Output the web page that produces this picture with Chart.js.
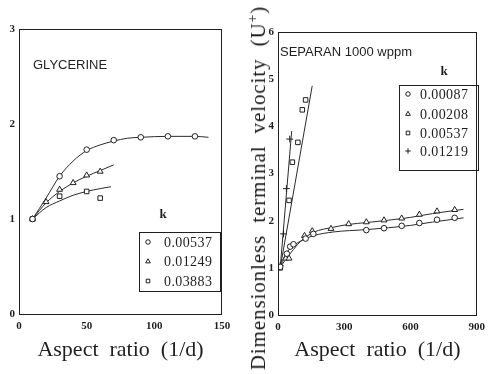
<!DOCTYPE html>
<html>
<head>
<meta charset="utf-8">
<script src="https://cdn.jsdelivr.net/npm/chart.js@4.4.1/dist/chart.umd.min.js"></script>
<style>
  html, body { margin: 0; padding: 0; background: #fff; }
  #wrap { position: relative; width: 491px; height: 374px; overflow: hidden; background: #fff; }
  #leftBox { position: absolute; left: 0; top: 0; width: 240px; height: 374px; }
  #rightBox { position: absolute; left: 240px; top: 0; width: 251px; height: 374px; }
  #ytitle {
    position: absolute; left: 258px; top: 188px;
    transform: translate(-50%, -50%) rotate(-90deg);
    white-space: nowrap; color: #1a1a1a;
    font: 21px "Liberation Serif", "DejaVu Serif", serif;
    letter-spacing: 0.9px; word-spacing: 6px;
  }
</style>
</head>
<body>
<div id="wrap">
  <div id="leftBox"><canvas id="glyChart"></canvas></div>
  <div id="rightBox"><canvas id="sepChart"></canvas></div>
  <div id="ytitle">Dimensionless terminal velocity (U<sup style="font-size:14px">+</sup>)</div>
</div>
<script>
// GLYCERINE panel - measured points
const glyK = ['0.00537', '0.01249', '0.03883'];
const glyAR1 = [10, 30, 50, 70, 90, 110, 130];
const glyU1 = [1.0, 1.45, 1.73, 1.83, 1.86, 1.87, 1.87];
const glyAR2 = [10, 20, 30, 40, 50, 60];
const glyU2 = [1.0, 1.18, 1.31, 1.38, 1.46, 1.50];
const glyAR3 = [10, 30, 50, 60];
const glyU3 = [1.0, 1.24, 1.29, 1.22];
// GLYCERINE panel - fitted curves
const glyFitAR1 = [10, 20, 30, 40, 50, 60, 70, 80, 90, 110, 130, 140];
const glyFitU1 = [1.0, 1.22, 1.45, 1.61, 1.72, 1.78, 1.82, 1.85, 1.86, 1.87, 1.87, 1.86];
const glyFitAR2 = [10, 20, 30, 40, 50, 60, 70];
const glyFitU2 = [1.0, 1.17, 1.29, 1.38, 1.45, 1.51, 1.57];
const glyFitAR3 = [10, 20, 30, 40, 50, 60, 68];
const glyFitU3 = [1.0, 1.12, 1.19, 1.25, 1.29, 1.32, 1.34];

// SEPARAN panel - measured points
const sepK = ['0.00087', '0.00208', '0.00537', '0.01219'];
const sepAR1 = [10, 40, 55, 70, 125, 160, 400, 480, 560, 640, 720, 800];
const sepU1 = [1.02, 1.30, 1.45, 1.50, 1.62, 1.72, 1.80, 1.84, 1.89, 1.95, 2.02, 2.06];
const sepAR2 = [35, 50, 120, 155, 240, 320, 400, 480, 560, 640, 720, 800];
const sepU2 = [1.20, 1.20, 1.68, 1.78, 1.83, 1.93, 1.97, 2.01, 2.05, 2.13, 2.20, 2.23];
const sepAR3 = [10, 50, 65, 90, 110, 125];
const sepU3 = [1.0, 2.43, 3.24, 3.66, 4.35, 4.56];
const sepAR4 = [10, 25, 38, 53];
const sepU4 = [1.05, 1.72, 2.68, 3.73];
// SEPARAN panel - fitted curves
const sepFitAR1 = [10, 30, 60, 100, 160, 250, 400, 500, 600, 700, 840];
const sepFitU1 = [1.0, 1.25, 1.43, 1.56, 1.68, 1.76, 1.81, 1.85, 1.90, 1.97, 2.06];
const sepFitAR2 = [10, 30, 60, 100, 160, 250, 320, 400, 500, 600, 700, 840];
const sepFitU2 = [1.0, 1.15, 1.33, 1.55, 1.75, 1.86, 1.92, 1.96, 2.01, 2.07, 2.15, 2.24];
const sepFitAR3 = [10, 155];
const sepFitU3 = [1.0, 4.86];
const sepFitAR4 = [10, 62];
const sepFitU4 = [1.0, 3.9];

const INK = '#1f1f1f';
const SERIF = '"Liberation Serif", "DejaVu Serif", serif';
const SANS = '"Liberation Sans", Arial, sans-serif';

const pts = (xs, ys) => xs.map((x, i) => ({ x, y: ys[i] }));

function markers(xs, ys, style, r) {
    return {
        data: pts(xs, ys), pointStyle: style, pointRadius: r,
        pointBorderColor: INK, pointBackgroundColor: '#fff', pointBorderWidth: 1,
        showLine: false
    };
}

function fit(xs, ys) {
    return {
        data: pts(xs, ys), showLine: true, pointRadius: 0,
        borderColor: '#2a2a2a', borderWidth: 1,
        cubicInterpolationMode: 'monotone'
    };
}

// frame, inset label and the boxed "k" legend
const panelDecor = {
    id: 'panelDecor',
    afterDraw(chart, args, o) {
        const { ctx, chartArea: a } = chart;
        ctx.save();
        ctx.strokeStyle = INK;
        ctx.lineWidth = 1;
        ctx.strokeRect(Math.round(a.left) + 0.5, Math.round(a.top) + 0.5,
            Math.round(a.right - a.left) - 1, Math.round(a.bottom - a.top));

        ctx.fillStyle = INK;
        ctx.textBaseline = 'middle';
        ctx.textAlign = 'left';
        ctx.font = '13px ' + SANS;
        ctx.fillText(o.note, a.left + o.noteX, a.top + o.noteY);

        const L = o.legend;
        const bx = Math.round(a.left + L.x), by = Math.round(a.top + L.y);
        ctx.strokeRect(bx + 0.5, by + 0.5, L.w, L.h);
        ctx.font = 'bold 13px ' + SERIF;
        ctx.textAlign = 'center';
        ctx.fillText('k', bx + L.kx, by + L.ky);

        ctx.font = '14px ' + SERIF;
        ctx.textAlign = 'left';
        if ('letterSpacing' in ctx) ctx.letterSpacing = '0.4px';
        L.labels.forEach((lab, i) => {
            const ds = chart.data.datasets[i];
            const y = by + L.rows[i];
            ctx.fillStyle = '#fff';
            ctx.strokeStyle = INK;
            Chart.helpers.drawPoint(ctx, {
                pointStyle: ds.pointStyle, radius: ds.pointRadius * 0.8,
                borderWidth: 1, rotation: 0
            }, bx + L.mx, y);
            ctx.fillStyle = INK;
            ctx.fillText(lab, bx + L.tx, y + 1);
        });
        ctx.restore();
    }
};

function axes(xMax, xStep, yMax, yW, xH) {
    const tickFont = { family: SERIF, size: 11, weight: 'bold' };
    return {
        x: {
            type: 'linear', min: 0, max: xMax,
            grid: { display: false, drawTicks: false },
            border: { display: false },
            ticks: { stepSize: xStep, padding: 6, color: INK, font: tickFont, maxRotation: 0 },
            title: {
                display: true, text: 'Aspect  ratio  (1/d)', color: INK,
                font: { family: SERIF, size: 22 }, padding: { top: 0, bottom: 11 }
            },
            afterFit: s => { s.height = xH; }
        },
        y: {
            type: 'linear', min: 0, max: yMax,
            grid: { display: false, drawTicks: false },
            border: { display: false },
            ticks: { stepSize: 1, padding: 4, color: INK, font: tickFont },
            afterFit: s => { s.width = yW; }
        }
    };
}

new Chart(document.getElementById('glyChart'), {
    type: 'scatter',
    data: {
        datasets: [
            markers(glyAR1, glyU1, 'circle', 2.8),
            markers(glyAR2, glyU2, 'triangle', 3.4),
            markers(glyAR3, glyU3, 'rect', 3.2),
            fit(glyFitAR1, glyFitU1),
            fit(glyFitAR2, glyFitU2),
            fit(glyFitAR3, glyFitU3)
        ]
    },
    options: {
        responsive: true, maintainAspectRatio: false, animation: false,
        layout: { padding: { top: 29, right: 18, left: 0, bottom: 0 } },
        plugins: {
            legend: { display: false }, tooltip: { enabled: false },
            panelDecor: {
                note: 'GLYCERINE', noteX: 14, noteY: 36,
                legend: { labels: glyK, x: 120, y: 203, w: 81, h: 59, rows: [10, 29.5, 49], mx: 9, tx: 25, kx: 24, ky: -17 }
            }
        },
        scales: axes(150, 50, 3, 19, 60)
    },
    plugins: [panelDecor]
});

new Chart(document.getElementById('sepChart'), {
    type: 'scatter',
    data: {
        datasets: [
            markers(sepAR1, sepU1, 'circle', 2.8),
            markers(sepAR2, sepU2, 'triangle', 3.4),
            markers(sepAR3, sepU3, 'rect', 3.2),
            markers(sepAR4, sepU4, 'cross', 3.4),
            fit(sepFitAR1, sepFitU1),
            fit(sepFitAR2, sepFitU2),
            fit(sepFitAR3, sepFitU3),
            fit(sepFitAR4, sepFitU4)
        ]
    },
    options: {
        responsive: true, maintainAspectRatio: false, animation: false,
        layout: { padding: { top: 32, right: 11, left: 0, bottom: 0 } },
        plugins: {
            legend: { display: false }, tooltip: { enabled: false },
            panelDecor: {
                note: 'SEPARAN 1000 wppm', noteX: 2, noteY: 20,
                legend: { labels: sepK, x: 121, y: 53, w: 79, h: 85, rows: [9, 29, 48, 66], mx: 9, tx: 21, kx: 45, ky: -13 }
            }
        },
        scales: axes(900, 300, 6, 38, 59)
    },
    plugins: [panelDecor]
});
</script>
</body>
</html>
